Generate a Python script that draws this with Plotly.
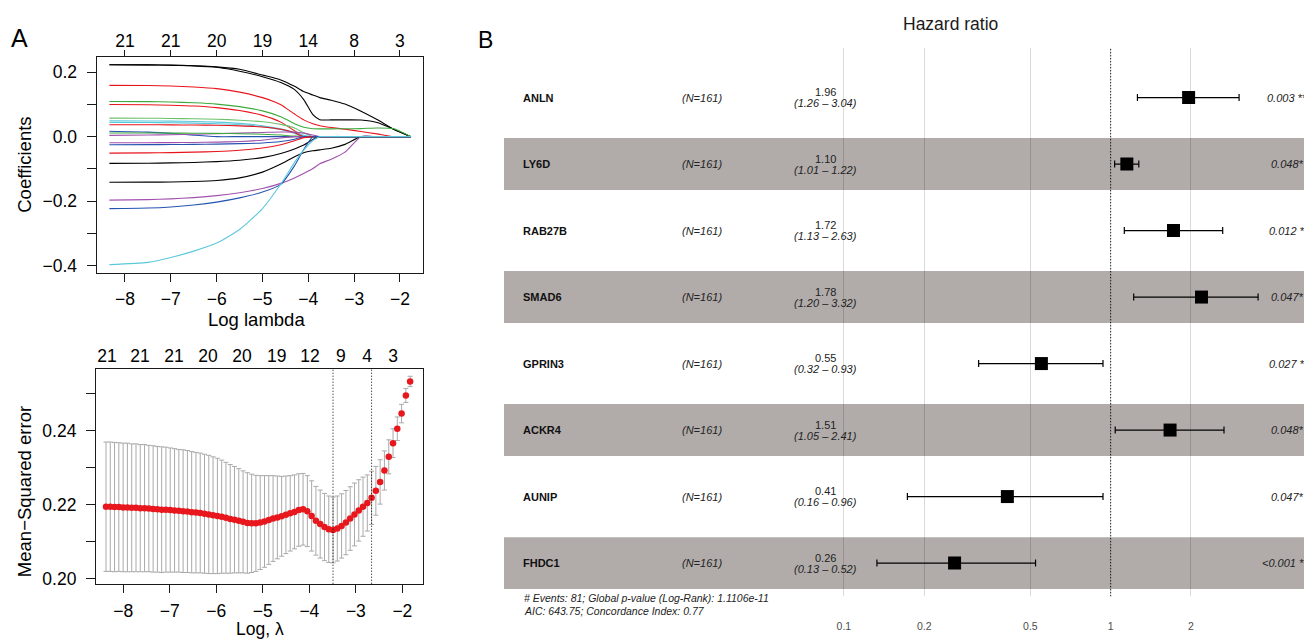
import plotly.graph_objects as go

# ---------------- data ----------------
# Panel A (top): LASSO coefficient paths, sampled at these log(lambda) knots
coef_loglambda = [-8.34, -7.5, -7.0, -6.5, -6.0, -5.5, -5.0, -4.6, -4.3, -4.1, -3.9, -3.75, -3.5, -3.2, -2.85, -2.5, -2.15, -1.76]
path_black_a = [.2230, .2225, .2215, .2195, .2150, .2030, .1860, .1680, .1460, .1150, .0680, .0525, .0520, .0520, .0515, .0440, .0240, 0]
path_black_b = [.2230, .2226, .2218, .2200, .2165, .2090, .1910, .1760, .1560, .1400, .1290, .1210, .1130, .1010, .0790, .0530, .0240, 0]
path_red_a = [.1590, .1585, .1570, .1540, .1490, .1380, .1210, .0990, .0700, .0520, .0400, .0340, .0285, .0230, .0160, .0085, 0, 0]
path_green_a = [.1090, .1085, .1075, .1050, .1010, .0930, .0800, .0620, .0400, .0290, .0245, .0240, .0240, .0245, .0250, .0270, .0250, 0]
path_red_b = [.0997, .0990, .0975, .0950, .0900, .0810, .0660, .0450, .0180, 0, 0, 0, 0, 0, 0, 0, 0, 0]
path_green_b = [.0575, .0572, .0565, .0555, .0540, .0510, .0460, .0380, .0270, .0120, 0, 0, 0, 0, 0, 0, 0, 0]
path_cyan_a = [.0490, .0487, .0480, .0470, .0450, .0410, .0340, .0240, .0130, .0040, 0, 0, 0, 0, 0, 0, 0, 0]
path_cyan_b = [.0440, .0438, .0432, .0420, .0400, .0370, .0310, .0220, .0100, 0, 0, 0, 0, 0, 0, 0, 0, 0]
path_red_c = [.0370, .0368, .0365, .0360, .0352, .0335, .0300, .0230, .0120, 0, 0, 0, 0, 0, 0, 0, 0, 0]
path_blue_a = [.0166, .0140, .0100, .0045, 0, 0, 0, 0, 0, 0, 0, 0, 0, 0, 0, 0, 0, 0]
path_purple_a = [.0040, .0050, .0060, .0075, .0090, .0110, .0130, .0145, .0140, .0110, .0050, 0, 0, 0, 0, 0, 0, 0]
path_green_c = [.0114, .0113, .0110, .0106, .0100, .0090, .0075, .0050, .0015, 0, 0, 0, 0, 0, 0, 0, 0, 0]
path_purple_b = [-.0190, -.0188, -.0185, -.0180, -.0170, -.0150, -.0110, -.0040, 0, 0, 0, 0, 0, 0, 0, 0, 0, 0]
path_blue_b = [-.0250, -.0248, -.0245, -.0240, -.0232, -.0218, -.0195, -.0150, -.0080, 0, 0, 0, 0, 0, 0, 0, 0, 0]
path_red_d = [-.0510, -.0505, -.0495, -.0480, -.0460, -.0420, -.0350, -.0250, -.0130, -.0030, 0, 0, 0, 0, 0, 0, 0, 0]
path_black_c = [-.0830, -.0825, -.0815, -.0800, -.0775, -.0730, -.0650, -.0520, -.0380, -.0260, -.0090, 0, 0, 0, 0, 0, 0, 0]
path_black_d = [-.1415, -.1412, -.1405, -.1390, -.1360, -.1280, -.1100, -.0850, -.0620, -.0500, -.0440, -.0410, -.0360, -.0240, 0, 0, 0, 0]
path_purple_c = [-.1970, -.1955, -.1930, -.1890, -.1830, -.1740, -.1610, -.1450, -.1280, -.1140, -.0990, -.0840, -.0700, -.0480, 0, 0, 0, 0]
path_blue_c = [-.2234, -.2215, -.2180, -.2120, -.2030, -.1900, -.1720, -.1480, -.0900, -.0400, 0, 0, 0, 0, 0, 0, 0, 0]
path_cyan_c = [-.3970, -.3900, -.3750, -.3550, -.3300, -.2880, -.2230, -.1470, -.0800, -.0420, -.0120, 0, 0, 0, 0, 0, 0, 0]

coef_top_ticks = [-8, -7, -6, -5, -4, -3, -2]
coef_top_labels = ["21", "21", "20", "19", "14", "8", "3"]

# Panel A (bottom): cross-validation curve
cv_loglambda = [-8.372, -8.280, -8.188, -8.096, -8.004, -7.912, -7.819, -7.727, -7.635, -7.543,
                -7.451, -7.359, -7.267, -7.175, -7.083, -6.991, -6.898, -6.806, -6.714, -6.622,
                -6.530, -6.438, -6.346, -6.254, -6.162, -6.070, -5.977, -5.885, -5.793, -5.701,
                -5.609, -5.517, -5.425, -5.333, -5.241, -5.149, -5.056, -4.964, -4.872, -4.780,
                -4.688, -4.596, -4.504, -4.412, -4.320, -4.228, -4.135, -4.043, -3.951, -3.859,
                -3.767, -3.675, -3.583, -3.491, -3.399, -3.307, -3.214, -3.122, -3.030, -2.938,
                -2.846, -2.754, -2.662, -2.570, -2.478, -2.386, -2.293, -2.201, -2.109, -2.017,
                -1.925, -1.833]
cv_mse = [0.2195, 0.2195, 0.2194, 0.2194, 0.2193, 0.2193, 0.2192, 0.2192, 0.2191, 0.2191,
          0.2190, 0.2189, 0.2188, 0.2187, 0.2187, 0.2186, 0.2185, 0.2184, 0.2183, 0.2182,
          0.2180, 0.2179, 0.2178, 0.2176, 0.2174, 0.2172, 0.2170, 0.2168, 0.2165, 0.2162,
          0.2160, 0.2157, 0.2154, 0.2151, 0.2150, 0.2150, 0.2152, 0.2155, 0.2159, 0.2163,
          0.2166, 0.2169, 0.2173, 0.2177, 0.2181, 0.2186, 0.2188, 0.2183, 0.2170, 0.2157,
          0.2148, 0.2140, 0.2134, 0.2132, 0.2136, 0.2143, 0.2152, 0.2163, 0.2174, 0.2185,
          0.2195, 0.2205, 0.2219, 0.2238, 0.2262, 0.2293, 0.2330, 0.2367, 0.2406, 0.2447,
          0.2496, 0.2534]
cv_se = [0.0175, 0.0175, 0.0175, 0.0174, 0.0174, 0.0174, 0.0173, 0.0173, 0.0172, 0.0172,
         0.0171, 0.0171, 0.0170, 0.0170, 0.0169, 0.0168, 0.0167, 0.0166, 0.0166, 0.0165,
         0.0164, 0.0163, 0.0162, 0.0161, 0.0160, 0.0158, 0.0156, 0.0153, 0.0150, 0.0147,
         0.0144, 0.0141, 0.0138, 0.0136, 0.0133, 0.0130, 0.0127, 0.0124, 0.0120, 0.0116,
         0.0112, 0.0108, 0.0105, 0.0102, 0.0100, 0.0098, 0.0097, 0.0096, 0.0095, 0.0093,
         0.0092, 0.0091, 0.0090, 0.0089, 0.0088, 0.0087, 0.0087, 0.0086, 0.0085, 0.0083,
         0.0080, 0.0076, 0.0072, 0.0066, 0.0060, 0.0053, 0.0046, 0.0039, 0.0032, 0.0025,
         0.0019, 0.0014]
cv_lambda_min = -3.491
cv_lambda_1se = -2.662
cv_top_pos = [-8.35, -7.64, -6.91, -6.18, -5.45, -4.70, -3.985, -3.32, -2.76, -2.20]
cv_top_labels = ["21", "21", "21", "20", "20", "19", "12", "9", "4", "3"]

# Panel B: forest plot
genes = ["ANLN", "LY6D", "RAB27B", "SMAD6", "GPRIN3", "ACKR4", "AUNIP", "FHDC1"]
n_text = ["(N=161)"] * 8
hr_text = ["1.96", "1.10", "1.72", "1.78", "0.55", "1.51", "0.41", "0.26"]
ci_text = ["(1.26 – 3.04)", "(1.01 – 1.22)", "(1.13 – 2.63)", "(1.20 – 3.32)",
           "(0.32 – 0.93)", "(1.05 – 2.41)", "(0.16 – 0.96)", "(0.13 – 0.52)"]
p_text = ["0.003 **", "0.048*", "0.012 *", "0.047*", "0.027 *", "0.048*", "0.047*", "<0.001 ***"]
hr_drawn = [1.96, 1.15, 1.72, 2.19, 0.55, 1.67, 0.41, 0.26]
lo_drawn = [1.26, 1.035, 1.125, 1.22, 0.32, 1.04, 0.173, 0.133]
hi_drawn = [3.03, 1.275, 2.63, 3.57, 0.936, 2.66, 0.936, 0.523]
hr_ticks = [0.1, 0.2, 0.5, 1, 2]
hr_tick_labels = ["0.1", "0.2", "0.5", "1", "2"]
footer_lines = ["# Events: 81; Global p-value (Log-Rank): 1.1106e-11",
                "AIC: 643.75; Concordance Index: 0.77"]

# ---------------- styling / layout helpers ----------------
# the page body has an 8px margin; the figure is sized to fill the rest of the window
OFF = 8
W, H = 1312 - OFF, 641 - OFF
FONT = "Liberation Sans, Arial, Helvetica, sans-serif"
BLACK, RED, GREEN, BLUE, CYAN, PURPLE = "#000000", "#E8141C", "#3DAA3D", "#2553B0", "#5CC8DC", "#A251AE"


def fx(x):
    return (x - OFF) / W


def fy(y):
    return 1 - (y - OFF) / H


coef_paths = [path_black_a, path_black_b, path_red_a, path_green_a, path_red_b, path_green_b,
              path_cyan_a, path_cyan_b, path_red_c, path_blue_a, path_purple_a, path_green_c,
              path_purple_b, path_blue_b, path_red_d, path_black_c, path_black_d, path_purple_c,
              path_blue_c, path_cyan_c]
coef_colors = [BLACK, BLACK, RED, GREEN, RED, "#6CC06C", CYAN, CYAN, RED, BLUE, PURPLE, GREEN,
               PURPLE, BLUE, RED, BLACK, BLACK, PURPLE, BLUE, CYAN]

fig = go.Figure()

for vals, col in zip(coef_paths, coef_colors):
    fig.add_trace(go.Scatter(x=coef_loglambda, y=vals, mode="lines",
                             line=dict(color=col, width=1.1, shape="spline", smoothing=0.6),
                             xaxis="x", yaxis="y", hoverinfo="skip", showlegend=False))
fig.add_trace(go.Scatter(x=[coef_top_ticks[0]], y=[0], mode="markers", marker=dict(opacity=0),
                         xaxis="x3", yaxis="y", hoverinfo="skip", showlegend=False))

fig.add_trace(go.Scatter(x=cv_loglambda, y=cv_mse, mode="markers",
                         marker=dict(color="#E8171E", size=6.5),
                         error_y=dict(type="data", array=cv_se, color="#A9A9A9", thickness=1, width=2.5),
                         xaxis="x2", yaxis="y2", hoverinfo="skip", showlegend=False))
fig.add_trace(go.Scatter(x=[cv_top_pos[0]], y=[cv_mse[0]], mode="markers", marker=dict(opacity=0),
                         xaxis="x4", yaxis="y2", hoverinfo="skip", showlegend=False))

rows = list(range(1, len(genes) + 1))
fig.add_trace(go.Scatter(x=hr_drawn, y=rows, mode="markers",
                         marker=dict(symbol="square", size=13, color="black"),
                         error_x=dict(type="data", symmetric=False,
                                      array=[h - m for h, m in zip(hi_drawn, hr_drawn)],
                                      arrayminus=[m - l for m, l in zip(hr_drawn, lo_drawn)],
                                      color="black", thickness=1.2, width=3.5),
                         xaxis="x5", yaxis="y5", hoverinfo="skip", showlegend=False))

tickfont = dict(family=FONT, size=17.5, color="black")
boxline = dict(showline=True, linecolor="#1a1a1a", linewidth=1.2, mirror=True,
               showgrid=False, zeroline=False)

fig.update_layout(
    width=W, height=H, margin=dict(l=0, r=0, t=0, b=0),
    paper_bgcolor="white", plot_bgcolor="rgba(0,0,0,0)",
    font=dict(family=FONT, color="black"), showlegend=False,
    xaxis=dict(domain=[fx(96.7), fx(423.3)], range=[-8.617, -1.491], anchor="y",
               tickvals=coef_top_ticks, ticks="outside", ticklen=8, tickcolor="#1a1a1a",
               tickfont=tickfont, ticklabelstandoff=2, **boxline),
    yaxis=dict(domain=[fy(275), fy(57.3)], range=[-0.4226, 0.2473], anchor="x",
               tickvals=[-0.4, -0.3, -0.2, -0.1, 0.0, 0.1, 0.2],
               ticktext=["−0.4", "", "−0.2", "", "0.0", "", "0.2"],
               ticks="outside", ticklen=9, tickcolor="#1a1a1a", tickfont=tickfont,
               ticklabelstandoff=6, **boxline),
    xaxis3=dict(overlaying="x", side="top", anchor="y", range=[-8.617, -1.491],
                tickvals=coef_top_ticks, ticktext=coef_top_labels, ticks="outside", ticklen=6,
                tickcolor="#1a1a1a", tickfont=tickfont, showgrid=False, zeroline=False,
                showline=False, ticklabelstandoff=-4),
    xaxis2=dict(domain=[fx(96), fx(422.7)], range=[-8.587, -1.563], anchor="y2",
                tickvals=coef_top_ticks, ticks="outside", ticklen=8, tickcolor="#1a1a1a",
                tickfont=tickfont, ticklabelstandoff=3, **boxline),
    yaxis2=dict(domain=[fy(588.3), fy(371.7)], range=[0.19866, 0.25681], anchor="x2",
                tickvals=[0.20, 0.21, 0.22, 0.23, 0.24, 0.25],
                ticktext=["0.20", "", "0.22", "", "0.24", ""],
                ticks="outside", ticklen=9, tickcolor="#1a1a1a", tickfont=tickfont,
                ticklabelstandoff=6, **boxline),
    xaxis4=dict(overlaying="x2", side="top", anchor="y2", range=[-8.587, -1.563],
                tickvals=cv_top_pos, ticktext=cv_top_labels, ticks="", tickfont=tickfont,
                showgrid=False, zeroline=False, showline=False, ticklabelstandoff=2),
    xaxis5=dict(domain=[fx(504), fx(1307)], type="log", range=[-2.274, 0.736], anchor="y5",
                tickvals=hr_ticks, ticktext=hr_tick_labels, ticks="",
                tickfont=dict(family=FONT, size=10.5, color="#4D4D4D"),
                showgrid=True, gridcolor="rgba(0,0,0,0.15)", gridwidth=1,
                zeroline=False, showline=False, ticklabelstandoff=22),
    yaxis5=dict(domain=[fy(601), fy(48)], range=[len(genes) + 0.5, 0.25], anchor="x5",
                visible=False, showgrid=False, zeroline=False),
)

shapes = []
for r in rows[1::2]:
    shapes.append(dict(type="rect", xref="x5 domain", x0=0, x1=1, yref="y5", y0=r - 0.39, y1=r + 0.39,
                       fillcolor="#B1ACAA", line=dict(width=0), layer="below"))
shapes.append(dict(type="line", xref="x5", x0=1, x1=1, yref="y5 domain", y0=0, y1=1,
                   line=dict(color="black", width=1.1, dash="1px,2px"), layer="above"))
for v in (cv_lambda_min, cv_lambda_1se):
    shapes.append(dict(type="line", xref="x2", x0=v, x1=v, yref="y2 domain", y0=0, y1=1,
                       line=dict(color="black", width=1, dash="1px,2px"), layer="above"))
fig.update_layout(shapes=shapes)

ann = []


def add_text(text, x, y, size, xanchor="center", yanchor="middle", xref="paper", yref="paper",
             textangle=0, italic=False, bold=False, yshift=0, color="black"):
    if bold:
        text = "<b>" + text + "</b>"
    if italic:
        text = "<i>" + text + "</i>"
    ann.append(dict(text=text, x=x, y=y, xref=xref, yref=yref, xanchor=xanchor, yanchor=yanchor,
                    showarrow=False, textangle=textangle, yshift=yshift,
                    font=dict(family=FONT, size=size, color=color)))


add_text("A", fx(19), fy(38), 25)
add_text("B", fx(485), fy(40), 23)
add_text("Coefficients", fx(25), fy(166), 18.5, textangle=-90)
add_text("Log lambda", fx(256), fy(322), 18.5)
add_text("Mean−Squared error", fx(24), fy(496), 18.5, textangle=-90)
add_text("Log, λ", fx(260), fy(634), 17.5)
add_text("Hazard ratio", fx(950), fy(24), 17.5, color="#1a1a1a")

for r, g, n, h, c, p in zip(rows, genes, n_text, hr_text, ci_text, p_text):
    add_text(g, fx(520.7), r, 11, xanchor="left", yref="y5", bold=True, color="#111")
    add_text(n, fx(701.7), r, 11, yref="y5", italic=True, color="#222")
    add_text(h, fx(825), r, 11, yref="y5", yshift=5.3, color="#222")
    add_text(c, fx(825), r, 11, yref="y5", yshift=-5.6, italic=True, color="#222")
    add_text(p, fx(1287), r, 11, yref="y5", italic=True, color="#222")

add_text(footer_lines[0], fx(521.7), fy(602.3), 10.5, xanchor="left", italic=True, color="#222")
add_text(footer_lines[1], fx(521.7), fy(616), 10.5, xanchor="left", italic=True, color="#222")

fig.update_layout(annotations=ann)

fig.write_html("out.html")
